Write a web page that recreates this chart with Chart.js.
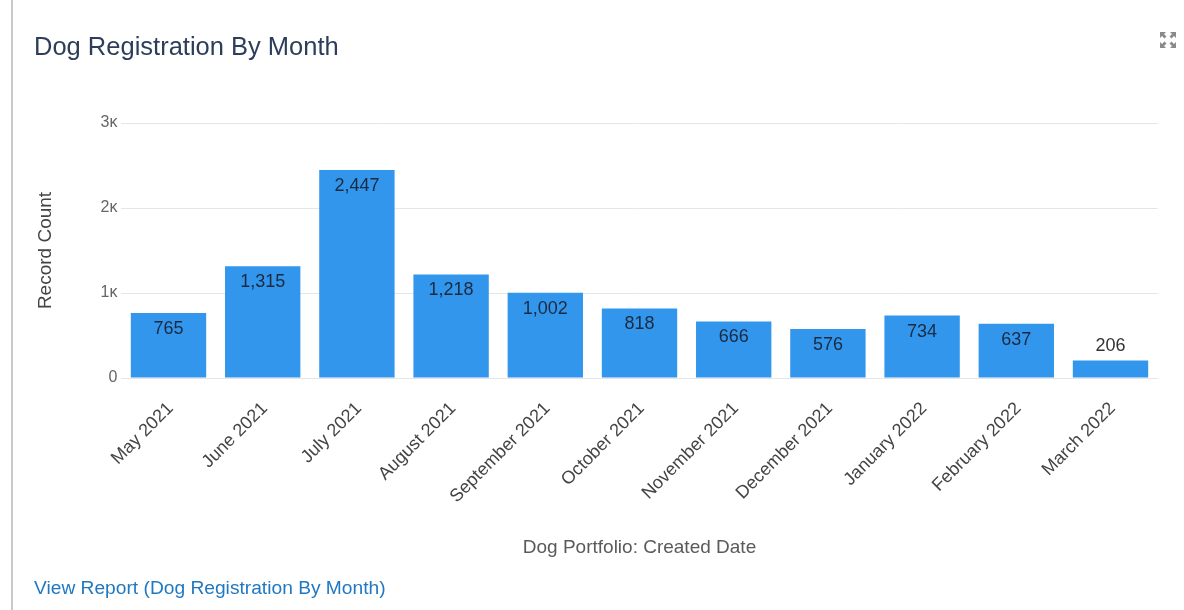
<!DOCTYPE html>
<html>
<head>
<meta charset="utf-8">
<script src="https://cdn.jsdelivr.net/npm/chart.js@4/dist/chart.umd.min.js"></script>
<style>
  html, body { margin: 0; padding: 0; background: #fff; }
  body { width: 1184px; height: 610px; position: relative; overflow: hidden;
         font-family: "Liberation Sans", Arial, sans-serif; }
  .edge { position: absolute; left: 11px; top: 0; width: 2px; height: 610px; background: #c9c9c9; }
  .title { position: absolute; left: 34px; top: 31px; font-size: 25.5px; line-height: 30px;
           color: #2d3e5a; white-space: nowrap; }
  .link { position: absolute; left: 34px; top: 576px; font-size: 19.2px; line-height: 24px;
          color: #1f78c1; text-decoration: none; white-space: nowrap; }
  .expand { position: absolute; left: 1159px; top: 31px; }
  #wrap { position: absolute; left: 0; top: 0; width: 1184px; height: 610px; }
</style>
</head>
<body>
<div id="wrap"><canvas id="chart"></canvas></div>
<div class="edge"></div>
<div class="title">Dog Registration By Month</div>
<a class="link" href="#">View Report (Dog Registration By Month)</a>
<svg class="expand" width="18" height="18" viewBox="0 0 18 18">
  <g fill="#8a8a8a">
    <polygon points="1,1 7,1 5,3 7.5,5.5 5.5,7.5 3,5 1,7"/>
    <polygon points="17,1 11,1 13,3 10.5,5.5 12.5,7.5 15,5 17,7"/>
    <polygon points="1,17 7,17 5,15 7.5,12.5 5.5,10.5 3,13 1,11"/>
    <polygon points="17,17 11,17 13,15 10.5,12.5 12.5,10.5 15,13 17,11"/>
  </g>
</svg>
<script>
// Monthly dog registrations (record counts)
const months = ['May 2021', 'June 2021', 'July 2021', 'August 2021', 'September 2021',
                'October 2021', 'November 2021', 'December 2021', 'January 2022',
                'February 2022', 'March 2022'];
const recordCounts = [765, 1315, 2447, 1218, 1002, 818, 666, 576, 734, 637, 206];
const yTickValues = [0, 1000, 2000, 3000];
const yTickLabels = ['0', '1\u1D0B', '2\u1D0B', '3\u1D0B'];

const FONT = '"Liberation Sans", Arial, sans-serif';

// Writes each bar's count inside the top of the bar, or just above it when the bar is short
const valueLabels = {
  id: 'valueLabels',
  afterDatasetsDraw(chart) {
    const ctx = chart.ctx;
    const meta = chart.getDatasetMeta(0);
    ctx.save();
    ctx.font = '18px ' + FONT;
    ctx.textAlign = 'center';
    ctx.textBaseline = 'middle';
    meta.data.forEach((bar, i) => {
      const v = chart.data.datasets[0].data[i];
      const h = bar.base - bar.y;
      const text = v.toLocaleString('en-US');
      if (h > 30) {
        ctx.fillStyle = '#1b2a40';
        ctx.fillText(text, bar.x, bar.y + 16);
      } else {
        ctx.fillStyle = '#333333';
        ctx.fillText(text, bar.x, bar.y - 14);
      }
    });
    ctx.restore();
  }
};

new Chart(document.getElementById('chart'), {
  type: 'bar',
  data: {
    labels: months,
    datasets: [{
      label: 'Record Count',
      data: recordCounts,
      backgroundColor: '#3296ed',
      borderWidth: 0,
      barPercentage: 0.8,
      categoryPercentage: 1.0
    }]
  },
  options: {
    responsive: true,
    maintainAspectRatio: false,
    animation: false,
    events: [],
    layout: { padding: { left: 30, right: 26.4, top: 123, bottom: 40 } },
    plugins: {
      legend: { display: false },
      tooltip: { enabled: false }
    },
    scales: {
      x: {
        grid: { display: false, drawTicks: false },
        border: { display: false },
        ticks: {
          autoSkip: false,
          minRotation: 45,
          maxRotation: 45,
          padding: 20,
          labelOffset: 2,
          color: '#444444',
          font: { family: FONT, size: 18 }
        },
        title: {
          display: true,
          text: 'Dog Portfolio: Created Date',
          color: '#5a5a5a',
          font: { family: FONT, size: 19 },
          padding: { top: 0, bottom: 11 }
        },
        afterFit(scale) { scale.height = 192; }
      },
      y: {
        min: 0,
        max: 3000,
        afterBuildTicks(scale) { scale.ticks = yTickValues.map(v => ({ value: v })); },
        grid: { color: '#e6e6e6', drawTicks: false, lineWidth: 1 },
        border: { display: false },
        ticks: {
          padding: 4,
          color: '#666666',
          font: { family: FONT, size: 16 },
          callback(value) { return yTickLabels[yTickValues.indexOf(value)]; }
        },
        title: {
          display: true,
          text: 'Record Count',
          color: '#444444',
          font: { family: FONT, size: 19 },
          padding: { top: 4, bottom: 0 }
        },
        afterFit(scale) { scale.width = 91.4; }
      }
    }
  },
  plugins: [valueLabels]
});
</script>
</body>
</html>
